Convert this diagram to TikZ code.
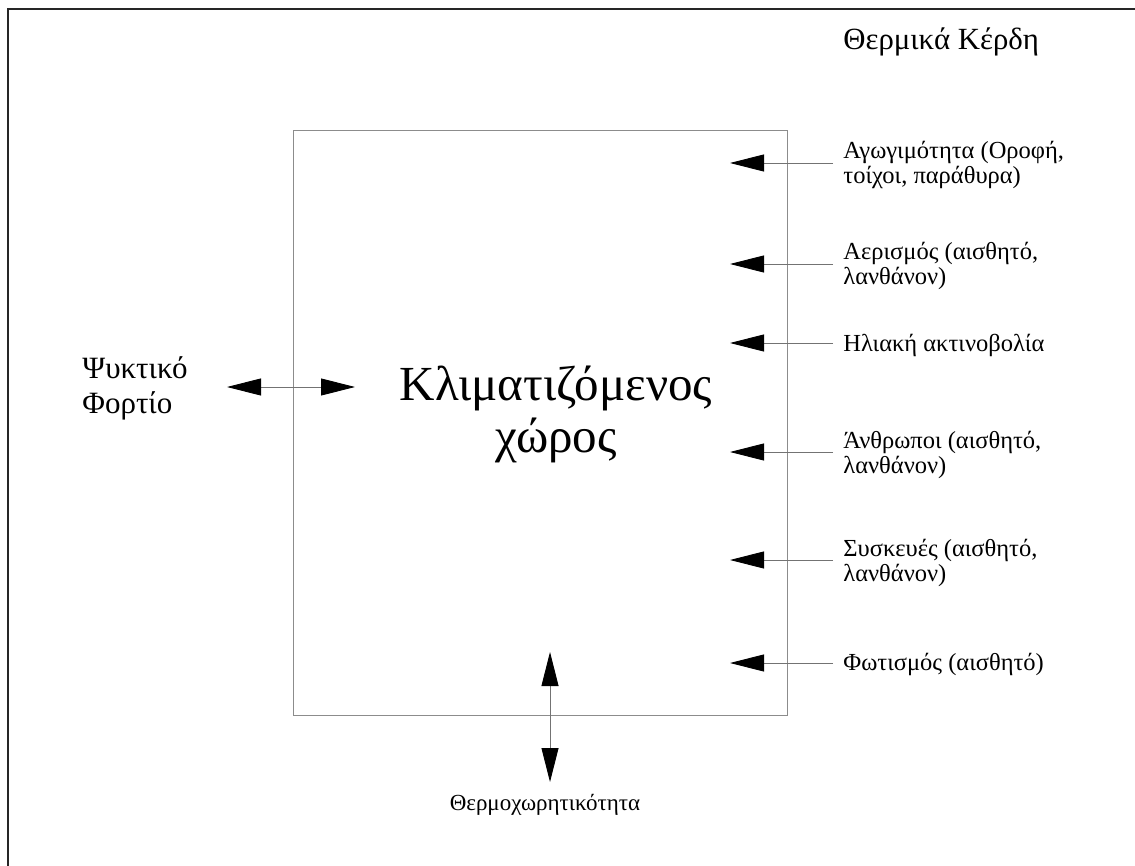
\documentclass[tikz,border=0pt]{standalone}
\usepackage{fontspec}
\setmainfont{Liberation Serif}
\usetikzlibrary{arrows.meta}

\tikzset{
  frame/.style={draw=black!85, line width=1pt},
  room/.style={draw=black!45, line width=0.5pt},
  flow/.style={draw=black!55, line width=0.45pt},
  head/.tip={Triangle[length=17pt,width=8.5pt,color=black]},
  label/.style={inner sep=0pt, align=left, font=\fontsize{12.25}{12.5}\selectfont},
}

\begin{document}
\begin{tikzpicture}[x=0.5pt,y=-0.5pt]
% Parameters
\def\boxL{293};
\def\boxR{787};
\def\boxT{131};
\def\boxB{715};
\def\tipX{730};
\def\tailX{833};
\def\textX{843};

\useasboundingbox (0,0) rectangle (1135,866);

% Frame (only top and left edges are on the sheet)
\draw[frame] (8,866) -- (8,9) -- (1135,9);

% Conditioned room
\draw[room] (\boxL,\boxT) rectangle (\boxR,\boxB);
\node[align=center, inner sep=0pt, font=\fontsize{24.5}{26}\selectfont] (room) at (556,414) {Κλιματιζόμενος\\χώρος};

% Heat gains (base anchor sits on the last line)
\node[anchor=base west, inner sep=0pt, font=\fontsize{15.4}{17}\selectfont] (gains) at (\textX,50) {Θερμικά Κέρδη};
\foreach \y/\dy/\txt [count=\i] in {163/21/{Αγωγιμότητα (Οροφή,\\τοίχοι, παράθυρα)},
                                    264/21/{Αερισμός (αισθητό,\\λανθάνον)},
                                    343/8/{Ηλιακή ακτινοβολία},
                                    452/21/{Άνθρωποι (αισθητό,\\λανθάνον)},
                                    560/21/{Συσκευές (αισθητό,\\λανθάνον)},
                                    663/7/{Φωτισμός (αισθητό)}}
{
\coordinate (tail\i) at (\tailX,\y);
\coordinate (tip\i) at (\tipX,\y);
\node[label, anchor=base west] (gain\i) at (\textX,\y+\dy) {\txt};
\draw[flow, -head] (tail\i) -- (tip\i);
}

% Cooling load
\node[anchor=base west, inner sep=0pt, align=left, font=\fontsize{15.5}{17.5}\selectfont] (load) at (82,413) {Ψυκτικό\\Φορτίο};
\coordinate (loadL) at (227,387);
\coordinate (loadR) at (355,387);
\draw[flow, head-head] (loadL) -- (loadR);

% Heat capacity
\coordinate (capT) at (550,652);
\coordinate (capB) at (550,782);
\draw[flow, head-head] (capT) -- (capB);
\node[label, anchor=base, font=\fontsize{11.5}{12}\selectfont] (cap) at (545,810) {Θερμοχωρητικότητα};

\end{tikzpicture}
\end{document}
